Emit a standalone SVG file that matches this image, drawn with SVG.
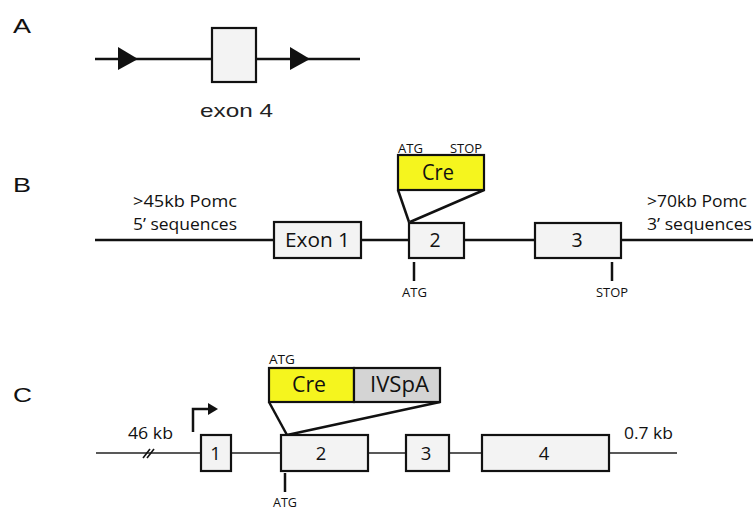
<svg xmlns="http://www.w3.org/2000/svg" width="753" height="512" viewBox="0 0 753 512">
<style>
.lbl{font-family:"Liberation Sans",Arial,sans-serif;font-size:21px;fill:#111}
.hv{font-family:"Liberation Sans",Arial,sans-serif;font-size:19px;fill:#222}
.my{font-family:"Open Sans","Noto Sans",sans-serif;fill:#111}
.line{stroke:#111;stroke-width:2.5;fill:none}
.thin{stroke:#222;stroke-width:1.6;fill:none}
.box{fill:#f3f3f3;stroke:#111;stroke-width:2.2}
.cre{fill:#f5f51e;stroke:#111;stroke-width:2.2}
.ivs{fill:#d4d4d4;stroke:#111;stroke-width:2.2}
</style>
<rect width="753" height="512" fill="#fff"/>
<text class="lbl" x="13" y="33" textLength="18" lengthAdjust="spacingAndGlyphs">A</text>
<text class="lbl" x="13" y="192" textLength="18" lengthAdjust="spacingAndGlyphs">B</text>
<text class="lbl" x="13" y="402" textLength="19" lengthAdjust="spacingAndGlyphs">C</text>

<g id="connectors">
<line class="line" x1="95" y1="59" x2="360" y2="59"/>
<polygon points="118,47 138,59 118,70" fill="#111"/>
<polygon points="290,47 310,59 290,70" fill="#111"/>
<line class="line" x1="95" y1="240" x2="753" y2="240"/>
<line class="line" x1="398" y1="190" x2="409" y2="222"/>
<line class="line" x1="484" y1="190" x2="410" y2="222"/>
<line class="line" x1="414" y1="262" x2="414" y2="281"/>
<line class="line" x1="612" y1="262" x2="612" y2="281"/>
<line class="thin" x1="96" y1="453" x2="677" y2="453"/>
<line x1="143" y1="458" x2="150" y2="449" stroke="#111" stroke-width="1.6"/>
<line x1="147" y1="458" x2="154" y2="449" stroke="#111" stroke-width="1.6"/>
<polyline class="line" points="193,432 193,409 209,409"/>
<polygon points="208,403 218,409 208,415" fill="#111"/>
<line class="line" x1="269" y1="402" x2="287" y2="435"/>
<line class="line" x1="440" y1="402" x2="287" y2="435"/>
<line class="line" x1="285" y1="473" x2="285" y2="492"/>
</g>

<g id="exon4">
<rect class="box" x="212" y="28" width="44" height="54"/>
<text class="hv" x="236.5" y="117" text-anchor="middle" textLength="73" lengthAdjust="spacingAndGlyphs">exon 4</text>
</g>

<g id="b-labels">
<text class="my" x="133" y="207" font-size="16.5" textLength="104" lengthAdjust="spacingAndGlyphs">&gt;45kb Pomc</text>
<text class="my" x="133" y="230" font-size="16.5" textLength="104" lengthAdjust="spacingAndGlyphs">5’ sequences</text>
<text class="my" x="647" y="207" font-size="16.5" textLength="100" lengthAdjust="spacingAndGlyphs">&gt;70kb Pomc</text>
<text class="my" x="647" y="230" font-size="16.5" textLength="105" lengthAdjust="spacingAndGlyphs">3’ sequences</text>
</g>
<g id="b-exon1">
<rect class="box" x="274" y="222" width="87" height="36"/>
<text class="my" x="317.5" y="247" font-size="19.5" text-anchor="middle" textLength="65" lengthAdjust="spacingAndGlyphs">Exon 1</text>
</g>
<g id="b-exon2">
<rect class="box" x="409" y="223" width="55" height="35"/>
<text class="my" x="435" y="247" font-size="19.5" text-anchor="middle">2</text>
</g>
<g id="b-exon3">
<rect class="box" x="535" y="223" width="86" height="35"/>
<text class="my" x="577" y="247" font-size="19.5" text-anchor="middle">3</text>
</g>
<g id="b-cre">
<rect class="cre" x="398" y="155" width="86" height="35"/>
<text class="my" x="438" y="180" font-size="21" text-anchor="middle" textLength="32" lengthAdjust="spacingAndGlyphs">Cre</text>
<text class="my" x="398" y="153" font-size="13" textLength="25" lengthAdjust="spacingAndGlyphs">ATG</text>
<text class="my" x="450" y="153" font-size="13" textLength="32" lengthAdjust="spacingAndGlyphs">STOP</text>
</g>
<g id="b-ticks">
<text class="my" x="402" y="297" font-size="13" textLength="25" lengthAdjust="spacingAndGlyphs">ATG</text>
<text class="my" x="596" y="297" font-size="13" textLength="32" lengthAdjust="spacingAndGlyphs">STOP</text>
</g>

<g id="c-labels">
<text class="my" x="128" y="439" font-size="17" textLength="45" lengthAdjust="spacingAndGlyphs">46 kb</text>
<text class="my" x="624" y="439" font-size="17" textLength="49" lengthAdjust="spacingAndGlyphs">0.7 kb</text>
</g>
<g id="c-exon1">
<rect class="box" x="201" y="435" width="30" height="36"/>
<text class="my" x="215.5" y="460" font-size="18.5" text-anchor="middle">1</text>
</g>
<g id="c-exon2">
<rect class="box" x="281" y="435" width="87" height="36"/>
<text class="my" x="321" y="460" font-size="18.5" text-anchor="middle">2</text>
<text class="my" x="273" y="507" font-size="12.5" textLength="24" lengthAdjust="spacingAndGlyphs">ATG</text>
</g>
<g id="c-exon3">
<rect class="box" x="406" y="435" width="43" height="36"/>
<text class="my" x="426" y="460" font-size="18.5" text-anchor="middle">3</text>
</g>
<g id="c-exon4">
<rect class="box" x="482" y="435" width="127" height="36"/>
<text class="my" x="544" y="460" font-size="18.5" text-anchor="middle">4</text>
</g>
<g id="c-cre">
<rect class="cre" x="269" y="368" width="85" height="34"/>
<text class="my" x="309" y="392" font-size="21" text-anchor="middle" textLength="34" lengthAdjust="spacingAndGlyphs">Cre</text>
<text class="my" x="269" y="364" font-size="13" textLength="26" lengthAdjust="spacingAndGlyphs">ATG</text>
</g>
<g id="c-ivspa">
<rect class="ivs" x="354" y="368" width="86" height="34"/>
<text class="my" x="399.5" y="392" font-size="21" text-anchor="middle" textLength="59" lengthAdjust="spacingAndGlyphs">IVSpA</text>
</g>
</svg>
